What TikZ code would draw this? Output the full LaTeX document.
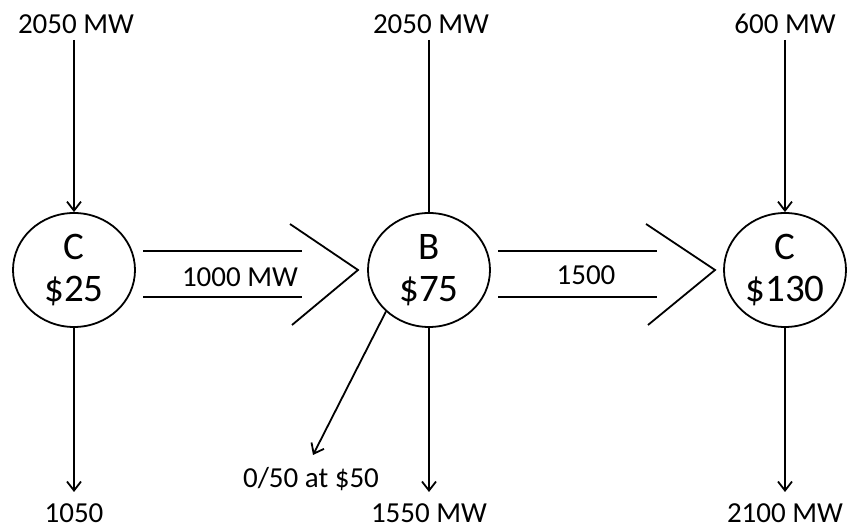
\documentclass[tikz,border=0pt]{standalone}
\usepackage{fontspec}
\setmainfont{Carlito}
\usetikzlibrary{arrows.meta,shapes.geometric}
\begin{document}
\begin{tikzpicture}[x=1pt,y=-1pt,
  line width=1.8pt,
  bus/.style={draw,ellipse,minimum width=122pt,minimum height=114pt,inner sep=0pt,
    align=center,font=\fontsize{39}{42}\selectfont},
  lbl/.style={font=\fontsize{29}{31}\selectfont,inner sep=0pt},
  flow/.style={-{Straight Barb[length=9pt,width=14pt,line width=1.8pt]}},
  fat/.style={line width=1.8pt}]
\useasboundingbox (0,0) rectangle (847,529);
% buses
\node[bus] (c1) at (74,270) {C\\\$25};
\node[bus] (b) at (429,270) {B\\\$75};
\node[bus] (c3) at (785,270) {C\\\$130};
% top labels
\node[lbl] (t1) at (76,24) {2050 MW};
\node[lbl] (t2) at (431,24) {2050 MW};
\node[lbl] (t3) at (785,24) {600 MW};
\coordinate (s1) at (74,40);
\coordinate (s2) at (429,40);
\coordinate (s3) at (785,40);
\draw[flow] (s1) -- (c1);
\draw (s2) -- (b);
\draw[flow] (s3) -- (c3);
% bottom
\coordinate (e1) at (74,492);
\coordinate (e2) at (429,492);
\coordinate (e3) at (785,492);
\draw[flow] (c1) -- (e1);
\draw[flow] (b) -- (e2);
\draw[flow] (c3) -- (e3);
\node[lbl] (u1) at (74,513) {1050};
\node[lbl] (u2) at (429,513) {1550 MW};
\node[lbl] (u3) at (785,513) {2100 MW};
% diagonal
\coordinate (d) at (313,455);
\draw[flow] (b.224) -- (d);
\node[lbl] (dl) at (311,479) {0/50 at \$50};
% fat arrows
\draw[fat] (143,251) -- (302,251) (143,297) -- (302,297);
\draw[fat] (290,224) -- (358,270) -- (292,325);
\node[lbl] (f1) at (240,277) {1000 MW};
\draw[fat] (498,251) -- (657,251) (498,297) -- (657,297);
\draw[fat] (646,224) -- (715,270) -- (648,325);
\node[lbl] (f2) at (586,275) {1500};
\end{tikzpicture}
\end{document}
